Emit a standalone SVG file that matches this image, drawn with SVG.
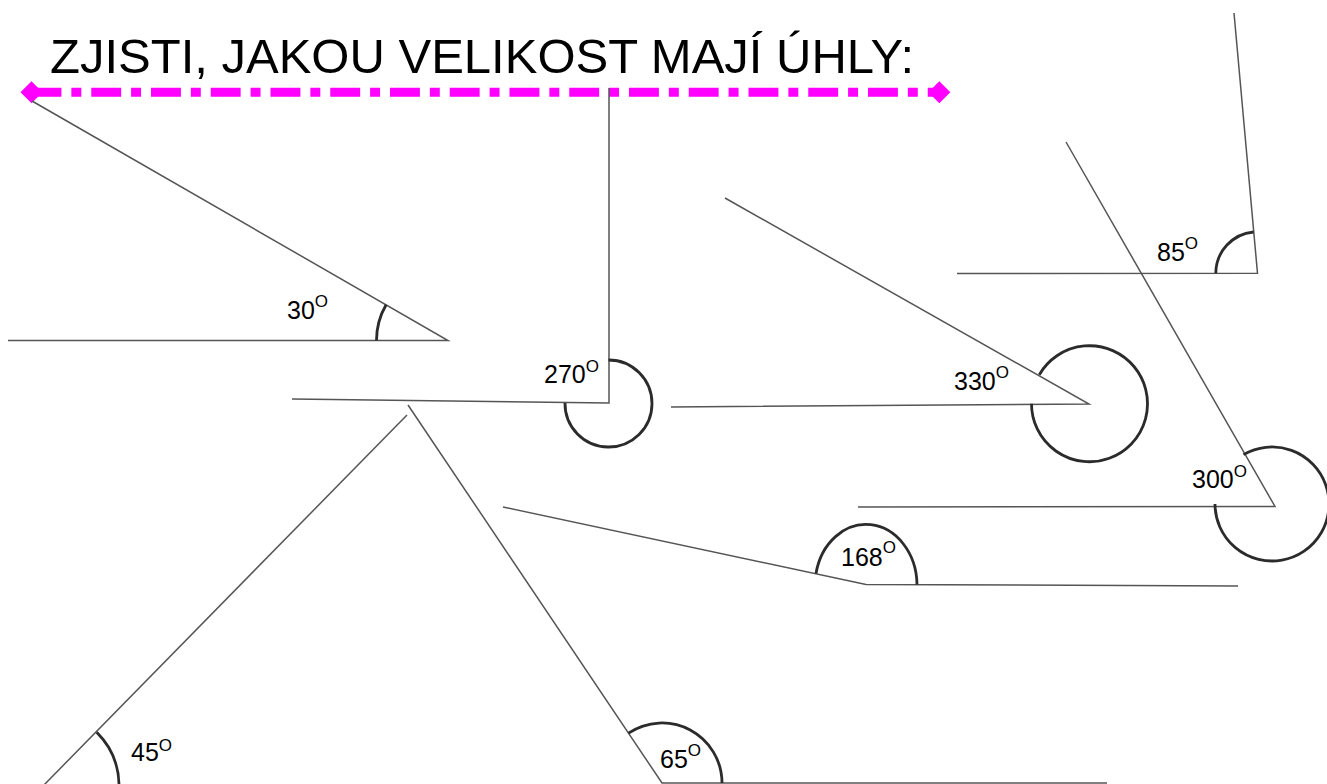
<svg xmlns="http://www.w3.org/2000/svg" width="1327" height="784" viewBox="0 0 1327 784">
  <style>
    .ray { fill: none; stroke: #555; stroke-width: 1.5; stroke-linecap: butt; }
    .arc { fill: none; stroke: #2b2b2b; stroke-width: 2.8; }
    .lbl { font-family: "Liberation Sans", Arial, sans-serif; font-size: 25px; fill: #000; }
    .sup { font-size: 17px; }
    .title { font-family: "Liberation Sans", Arial, sans-serif; font-size: 49px; fill: #000; }
  </style>
  <defs>
    <marker id="diamond" markerUnits="userSpaceOnUse" markerWidth="24" markerHeight="24" refX="12" refY="12" orient="auto">
      <path d="M1 12 L12 1 L23 12 L12 23 Z" fill="#ff00ff"/>
    </marker>
  </defs>
  <rect width="1327" height="784" fill="#fff"/>

  <g id="title">
    <text class="title" x="50" y="73">ZJISTI, JAKOU VELIKOST MAJÍ ÚHLY:</text>
    <path d="M31.5 92.3 L939.3 92.3" fill="none" stroke="#ff00ff" stroke-width="9" stroke-dasharray="29.9 9.95 9.95 9.95" marker-start="url(#diamond)" marker-end="url(#diamond)"/>
  </g>

  <g id="connectors">
    <!-- 30 -->
    <path class="ray" d="M8 340.5 L448 340.5 L32 101"/>
    <!-- 270 -->
    <path class="ray" d="M292 399 L609 403 L609 88"/>
    <!-- 330 -->
    <path class="ray" d="M671 407 L1089 404 L725 198"/>
    <!-- 85 -->
    <path class="ray" d="M957 273.5 L1257.5 273.3 L1234 13"/>
    <!-- 300 -->
    <path class="ray" d="M858 507 L1275 506.5 L1066 142"/>
    <!-- 168 -->
    <path class="ray" d="M503 507 L866 584.5 L1238 586"/>
    <!-- 45 -->
    <path class="ray" d="M407 415 L43 786"/>
    <!-- 65 -->
    <path class="ray" d="M408 405 L662 783 L1107 783"/>
  </g>

  <g id="angle-30">
    <path class="arc" d="M376.5 340.5 A71.5 71.5 0 0 1 386.1 304.8"/>
    <text class="lbl" x="287" y="319">30<tspan class="sup" dy="-12.3">O</tspan></text>
  </g>
  <g id="angle-270">
    <path class="arc" d="M608.5 360 A43.5 43.5 0 1 1 565 403"/>
    <text class="lbl" x="544" y="383">270<tspan class="sup" dy="-11.5">O</tspan></text>
  </g>
  <g id="angle-330">
    <path class="arc" d="M1039.3 374.7 A58 58 0 1 1 1031.5 403.7"/>
    <text class="lbl" x="954" y="390">330<tspan class="sup" dy="-12.3">O</tspan></text>
  </g>
  <g id="angle-85">
    <path class="arc" d="M1215.8 273.3 A41.5 41.5 0 0 1 1253.6 232"/>
    <text class="lbl" x="1157" y="261">85<tspan class="sup" dy="-12.5">O</tspan></text>
  </g>
  <g id="angle-300">
    <path class="arc" d="M1243.5 454.6 A57 57 0 1 1 1215 504"/>
    <text class="lbl" x="1192" y="487.5">300<tspan class="sup" dy="-11">O</tspan></text>
  </g>
  <g id="angle-168">
    <path class="arc" d="M816 573.5 A51 61 0 0 1 917 584.5"/>
    <text class="lbl" x="841" y="566">168<tspan class="sup" dy="-13">O</tspan></text>
  </g>
  <g id="angle-45">
    <path class="arc" d="M96.7 732.3 A76 76 0 0 1 119 786"/>
    <text class="lbl" x="131" y="761">45<tspan class="sup" dy="-10.5">O</tspan></text>
  </g>
  <g id="angle-65">
    <path class="arc" d="M628.5 733.2 A60 60 0 0 1 722 783"/>
    <text class="lbl" x="660" y="768">65<tspan class="sup" dy="-12">O</tspan></text>
  </g>
</svg>
